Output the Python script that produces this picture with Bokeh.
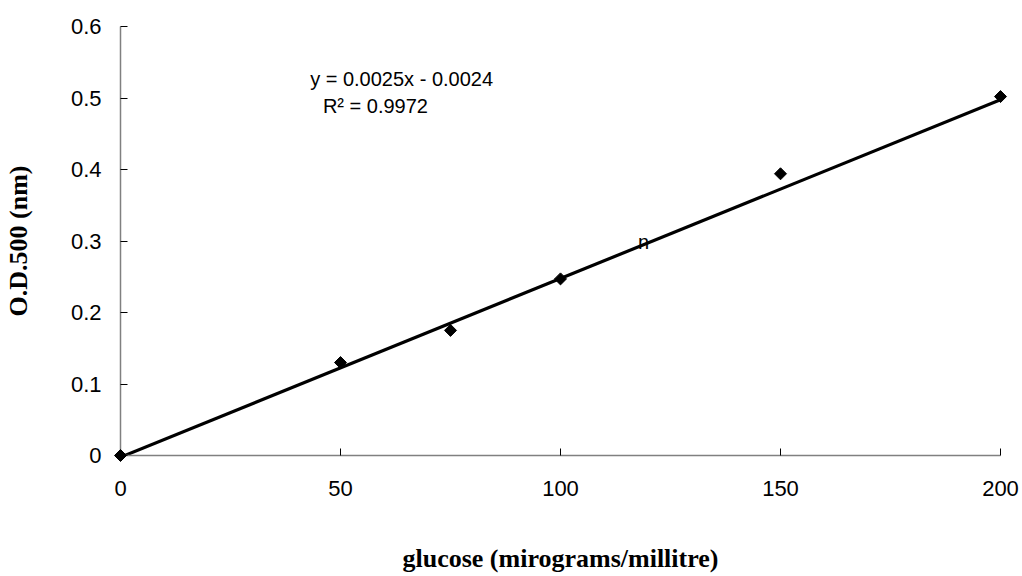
from bokeh.plotting import figure
from bokeh.models import Range1d, FixedTicker, NumeralTickFormatter, Label
from bokeh.embed import file_html
from bokeh.resources import INLINE
import numpy as np

# Glucose standard curve: concentration vs absorbance
glucose = [0, 50, 75, 100, 150, 200]
od500 = [0.0, 0.13, 0.175, 0.247, 0.394, 0.502]

# Linear trendline fitted to the standards
slope = 0.0025
intercept = -0.0024
r_squared = 0.9972

x_ticks = [0, 50, 100, 150, 200]
y_ticks = [0, 0.1, 0.2, 0.3, 0.4, 0.5, 0.6]

p = figure(width=1022, height=576, output_backend="svg", toolbar_location=None,
           x_range=Range1d(0, 200), y_range=Range1d(0, 0.6),
           min_border_left=119, min_border_right=22,
           min_border_top=26, min_border_bottom=121)
p.outline_line_color = None
p.xgrid.visible = False
p.ygrid.visible = False
p.background_fill_color = "white"
p.border_fill_color = "white"

for ax in (p.xaxis[0], p.yaxis[0]):
    ax.axis_line_color = "#808080"
    ax.axis_line_width = 1.5
    ax.major_tick_line_color = "#000000"
    ax.major_tick_line_width = 1
    ax.major_tick_in = 7
    ax.major_tick_out = 0
    ax.minor_tick_line_color = None
    ax.major_label_text_font = "Liberation Sans"
    ax.major_label_text_font_size = "22px"
    ax.major_label_text_color = "#000000"
    ax.axis_label_text_font = "Liberation Serif"
    ax.axis_label_text_font_style = "bold"
    ax.axis_label_text_font_size = "26px"
    ax.axis_label_text_color = "#000000"

p.xaxis.ticker = FixedTicker(ticks=x_ticks)
p.yaxis.ticker = FixedTicker(ticks=y_ticks)
p.yaxis.formatter = NumeralTickFormatter(format="0.[0]")
p.xaxis.major_label_standoff = 25
p.yaxis.major_label_standoff = 19
p.xaxis.axis_label = "glucose (mirograms/millitre)"
p.yaxis.axis_label = "O.D.500 (nm)"
p.xaxis.axis_label_standoff = 45
p.yaxis.axis_label_standoff = 35

# trendline
tx = np.array([0, 200])
p.line(tx, slope * tx + intercept, line_color="black", line_width=3.2)

# standards, drawn on the overlay level so the end points sit over the axes
p.scatter(glucose, od500, marker="square", angle=np.pi / 4, size=8.5,
          fill_color="black", line_color="black", level="overlay")

eq = f"y = {slope:.4f}x - {abs(intercept):.4f}"
r2 = f"R\u00b2 = {r_squared:.4f}"
p.add_layout(Label(x=43.1, y=0.527, text=eq, text_font="Liberation Sans",
                   text_font_size="20px", text_color="black",
                   text_baseline="alphabetic"))
p.add_layout(Label(x=46.0, y=0.4895, text=r2, text_font="Liberation Sans",
                   text_font_size="20px", text_color="black",
                   text_baseline="alphabetic"))
p.add_layout(Label(x=118.9, y=0.2986, text="n", text_font="Liberation Sans",
                   text_font_size="20px", text_color="black",
                   text_align="center", text_baseline="middle"))

open("out.html", "w").write(file_html(p, INLINE))
